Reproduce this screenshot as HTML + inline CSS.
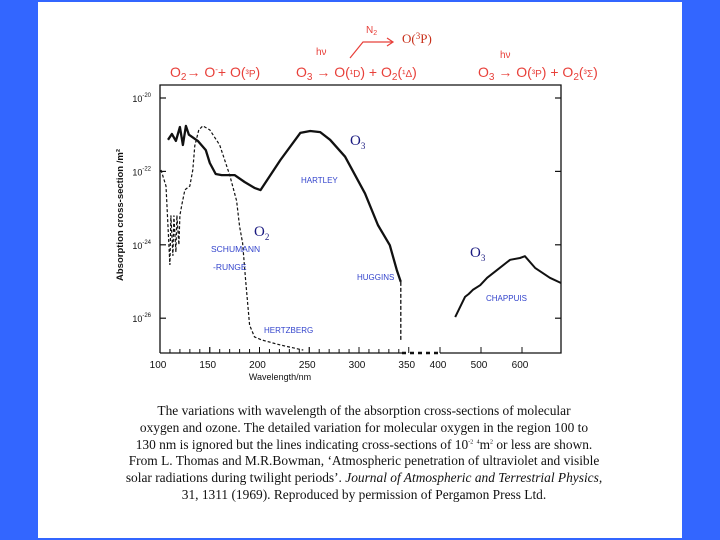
<!DOCTYPE html>
<html><head><meta charset="utf-8">
<style>
body{margin:0;width:720px;height:540px;background:#3366ff;overflow:hidden;font-family:"Liberation Sans",sans-serif}
#panel{position:absolute;left:38px;top:2px;width:644px;height:536px;background:#fff}
svg{position:absolute;left:0;top:0}
#caption{position:absolute;left:86px;top:403px;width:556px;text-align:center;font-family:"Liberation Serif",serif;font-size:13.4px;line-height:16.8px;color:#111;white-space:nowrap}
</style></head>
<body>
<div id="panel"></div>
<svg id="chart" width="720" height="540"></svg>
<div id="caption">The variations with wavelength of the absorption cross-sections of molecular<br>oxygen and ozone. The detailed variation for molecular oxygen in the region 100 to<br>130 nm is ignored but the lines indicating cross-sections of 10<sup style="font-size:6px;line-height:0">-2</sup> <sup style="font-size:6px;line-height:0">4</sup>m<sup style="font-size:6px;line-height:0">2</sup> or less are shown.<br>From L. Thomas and M.R.Bowman, ‘Atmospheric penetration of ultraviolet and visible<br>solar radiations during twilight periods’. <i>Journal of Atmospheric and Terrestrial Physics,</i><br>31, 1311 (1969). Reproduced by permission of Pergamon Press Ltd.</div>
<script>
const o3Wave=[108,112,116,120,123,126,129,138,146,150,156,162,175,185,195,201,221,241,251,261,271,286,306,319,331,338,342];
const o3Exp=[-21.14,-20.98,-21.17,-20.79,-21.28,-20.76,-21.0,-21.17,-21.42,-21.77,-22.07,-22.1,-22.1,-22.29,-22.45,-22.51,-21.69,-20.95,-20.9,-20.93,-21.14,-21.6,-22.6,-23.46,-24.01,-24.69,-25.01];
const chapWave=[437,461,470,480,498,515,539,571,595,607,632,668,695];
const chapExp=[-25.97,-25.42,-25.34,-25.23,-25.1,-24.9,-24.69,-24.41,-24.36,-24.31,-24.63,-24.9,-25.04];
const o2Wave=[101,106,110,111,113,114,116,117,119,120,122,125,130,133,135,139,143,150,160,170,177,180,183,186,190,195,202,221,244];
const o2Exp=[-21.96,-22.4,-24.55,-23.2,-24.3,-23.2,-24.2,-23.2,-24.0,-23.2,-22.9,-22.5,-22.4,-21.96,-21.3,-20.87,-20.76,-20.87,-21.28,-22.1,-22.8,-23.5,-23.95,-24.96,-26.19,-26.51,-26.59,-26.73,-26.87];
const hugWave=[342,342];
const hugExp=[-25.01,-26.6];
const yTicks=[-20,-22,-24,-26];
const xTicks1=[100,150,200,250,300,350];
const xTicks2=[400,500,600];

const X0=160,XR=561,YT=85,YB=353;
function x(l){return l<=375?160+(l-100)*0.995:440+(l-400)*0.41;}
function y(e){return 98+(-20-e)*36.7;}
const svg=document.getElementById('chart');
const NS='http://www.w3.org/2000/svg';
function mk(tag,attrs,text){const el=document.createElementNS(NS,tag);for(const k in attrs)el.setAttribute(k,attrs[k]);if(text!==undefined)el.textContent=text;svg.appendChild(el);return el;}
function pts(w,e){return w.map((v,i)=>x(v).toFixed(1)+','+y(e[i]).toFixed(1)).join(' ');}

let f=mk('path',{d:`M${X0},${YB} V${YT} H${XR} V${YB} H440 M402,${YB} H${X0}`,fill:'none',stroke:'#111','stroke-width':1.3});


let br=mk('line',{x1:402,y1:YB,x2:440,y2:YB,stroke:'#111','stroke-width':2.5,'stroke-dasharray':'4,4'});


yTicks.forEach(e=>{
 mk('line',{x1:X0,x2:X0+6,y1:y(e),y2:y(e),stroke:'#111','stroke-width':1.2});
 mk('line',{x1:XR,x2:XR-6,y1:y(e),y2:y(e),stroke:'#111','stroke-width':1.2});
 let t=mk('text',{x:151,y:y(e)+4,'font-size':9,'text-anchor':'end',fill:'#111'});
 
 
 t.innerHTML='10<tspan dy="-5" font-size="6">'+e+'</tspan>';
});
for(let l=110;l<350;l+=10){mk('line',{x1:x(l),x2:x(l),y1:YB,y2:YB-(l%50==0?6:4),stroke:'#111','stroke-width':1});}
xTicks1.concat(xTicks2).forEach(l=>{
 mk('line',{x1:x(l),x2:x(l),y1:YB,y2:YB-6,stroke:'#111','stroke-width':1});
 let t=mk('text',{x:x(l)-2,y:368,'font-size':10,'text-anchor':'middle',fill:'#111'},String(l));
 
 
});
let xt=mk('text',{x:280,y:380,'font-size':9,'text-anchor':'middle',fill:'#111'},'Wavelength/nm');


let yt=mk('text',{x:0,y:0,'font-size':9.5,'text-anchor':'middle',fill:'#111','font-weight':'bold',transform:'translate(123,215) rotate(-90)'},'Absorption cross-section /m²');



let s1=mk('polyline',{points:pts(o3Wave,o3Exp),fill:'none',stroke:'#111','stroke-width':2.3,'stroke-linejoin':'round'});


let s2=mk('polyline',{points:pts(chapWave,chapExp),fill:'none',stroke:'#111','stroke-width':2,'stroke-linejoin':'round'});


let s3=mk('polyline',{points:pts(o2Wave,o2Exp),fill:'none',stroke:'#111','stroke-width':1.2,'stroke-dasharray':'3,2'});


let s4=mk('polyline',{points:pts(hugWave,hugExp),fill:'none',stroke:'#111','stroke-width':1.3,'stroke-dasharray':'4,2'});



const red='#e8403a';
function lab(name,px,py,html,size,col,fam){let t=mk('text',{x:px,y:py,'font-size':size,fill:col,'font-family':fam||'"Liberation Sans",sans-serif'});t.innerHTML=html;return t;}
lab('o2-reaction',170,77,'O<tspan font-size="10" dy="3">2</tspan><tspan dy="-3">→ O</tspan><tspan font-size="8" dy="-5">-</tspan><tspan dy="5">+ O(</tspan><tspan font-size="10">³P</tspan>)',14,red);
lab('o3-uv-reaction',296,77,'O<tspan font-size="10" dy="3">3</tspan><tspan dy="-3"> → O(</tspan><tspan font-size="10">¹D</tspan>) + O<tspan font-size="10" dy="3">2</tspan><tspan dy="-3">(</tspan><tspan font-size="10">¹Δ</tspan>)',14,red);
lab('hv-label-1',316,55,'hν',10,red);
lab('n2-label',366,33,'N<tspan font-size="7" dy="2">2</tspan>',10,red);
let ar=mk('path',{d:'M350,58 L363,42 H392 M387,38 L393,42 L387,46',fill:'none',stroke:red,'stroke-width':1.2});


lab('o3p-product',402,43,'O(<tspan font-size="9" dy="-4">3</tspan><tspan dy="4">P)</tspan>',13,'#c8301a','"Liberation Serif",serif');
lab('o3-vis-reaction',478,77,'O<tspan font-size="10" dy="3">3</tspan><tspan dy="-3"> →  O(</tspan><tspan font-size="10">³P</tspan>) + O<tspan font-size="10" dy="3">2</tspan><tspan dy="-3">(</tspan><tspan font-size="10">³Σ</tspan>)',14,red);
lab('hv-label-2',500,58,'hν',10,red);

const navy='#1a1a80',blue='#3344cc';
lab('o3-label-uv',350,145,'O<tspan font-size="9" dy="4">3</tspan>',15,navy,'"Liberation Serif",serif');
lab('o2-label',254,236,'O<tspan font-size="9" dy="4">2</tspan>',15,navy,'"Liberation Serif",serif');
lab('o3-label-vis',470,257,'O<tspan font-size="9" dy="4">3</tspan>',15,navy,'"Liberation Serif",serif');
lab('hartley-label',301,183,'HARTLEY',8,blue);
lab('schumann-label',211,252,'SCHUMANN',8.5,blue);
lab('runge-label',213,270,'-RUNGE',8.5,blue);
lab('huggins-label',357,280,'HUGGINS',8,blue);
lab('hertzberg-label',264,333,'HERTZBERG',8,blue);
lab('chappuis-label',486,301,'CHAPPUIS',8,blue);
</script>
</body></html>
